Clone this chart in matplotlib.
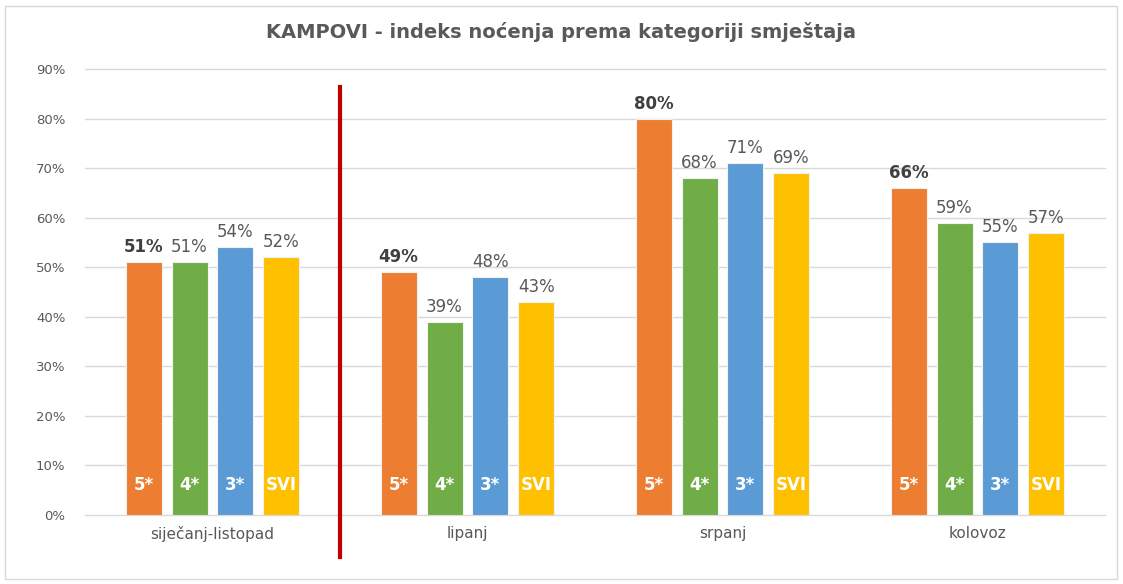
import numpy as np
import matplotlib.pyplot as plt
from matplotlib.patches import Rectangle

# podaci
periods = ["siječanj-listopad", "lipanj", "srpanj", "kolovoz"]
categories = ["5*", "4*", "3*", "SVI"]
val_5 = [51, 49, 80, 66]
val_4 = [51, 39, 68, 59]
val_3 = [54, 48, 71, 55]
val_svi = [52, 43, 69, 57]
colors = ["#ED7D31", "#70AD47", "#5B9BD5", "#FFC000"]

series = [val_5, val_4, val_3, val_svi]

fig = plt.figure(figsize=(11.23, 5.84), dpi=100)
ax = fig.add_axes([85 / 1123, 69 / 584, 1020 / 1123, 446 / 584])

# okvir oko grafa
fig.patches.append(Rectangle((5 / 1123, 5 / 584), 1112 / 1123, 573 / 584,
                             transform=fig.transFigure, fill=False,
                             edgecolor="#D9D9D9", linewidth=1))

x = np.arange(len(periods))
width = 0.141
step = 0.18
offsets = (np.arange(4) - 1.5) * step

for i, (vals, col) in enumerate(zip(series, colors)):
    pos = x + offsets[i]
    ax.bar(pos, vals, width=width, color=col, edgecolor="#F2F2F2",
           linewidth=0.8, zorder=3)
    for p, v in zip(pos, vals):
        ax.text(p, v + 1.2, f"{v}%", ha="center", va="bottom",
                fontsize=12, color="#404040" if i == 0 else "#595959",
                fontweight="bold" if i == 0 else "normal")
        ax.text(p, 6.0, categories[i], ha="center", va="center",
                fontsize=12, color="white", fontweight="bold", zorder=4)

ax.set_xlim(-0.5, 3.5)
ax.set_ylim(0, 90)
ax.set_yticks(range(0, 91, 10))
ax.set_yticklabels([f"{t}%" for t in range(0, 91, 10)], fontsize=9.5, color="#595959")
ax.set_xticks(x)
ax.set_xticklabels(periods, fontsize=11, color="#595959")
ax.tick_params(length=0, pad=8)
ax.tick_params(axis="y", pad=14)
for t in range(0, 91, 10):
    ax.axhline(t, color="#D9D9D9", linewidth=1, zorder=0, clip_on=False)
for s in ["top", "right", "left", "bottom"]:
    ax.spines[s].set_visible(False)

# crvena razdjelnica
ax.plot([0.5, 0.5], [86.4, -8.5], color="#C00000", linewidth=3,
        clip_on=False, zorder=5)

fig.text(0.5, 1 - 32 / 584, "KAMPOVI - indeks noćenja prema kategoriji smještaja",
         ha="center", va="center", fontsize=14, fontweight="bold", color="#595959")

fig.savefig("out.png", dpi=100, facecolor="white")
